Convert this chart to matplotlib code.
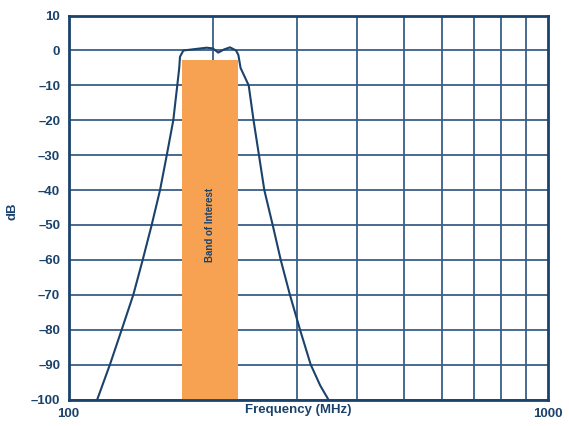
import matplotlib.pyplot as plt

# Filter response (MHz, dB)
freq = [114.8, 122.0, 129.1, 136.5, 142.8, 149.1, 155.2, 160.3, 165.4, 168.6,
        170.2, 170.8, 173.6, 182.1, 194.2, 200.0, 205.3, 211.0, 217.2, 223.6,
        226.1, 228.5, 237.6, 243.2, 249.6, 256.1, 266.6, 277.1, 289.6, 304.0,
        320.0, 335.0, 348.3]
gain = [-100, -90, -80, -70, -60, -50, -40, -30, -20, -10,
        -5, -1.8, 0.0, 0.35, 0.8, 0.6, -0.6, 0.3, 0.9, 0.0,
        -1.3, -5, -10, -20, -30, -40, -50, -60, -70, -80,
        -90, -96, -100]

band_lo, band_hi = 172.2, 225.3
band_top = -2.7

yticks = list(range(-100, 11, 10))
ylabels = [str(v).replace('-', '\u2013') for v in yticks]
xgrid = [200, 300, 400, 500, 600, 700, 800, 900]

navy = '#1b426b'
grid_c = '#3a5f88'
orange = '#f7a252'

plt.rcParams['font.family'] = ['Liberation Sans', 'DejaVu Sans']
plt.rcParams['font.weight'] = 'bold'

fig = plt.figure(figsize=(5.69, 4.26), dpi=100)
ax = fig.add_axes([0.1204, 0.0622, 0.8426, 0.9012])

ax.set_xscale('log')
ax.set_xlim(100, 1000)
ax.set_ylim(-100, 10)

for v in yticks:
    ax.axhline(v, color=grid_c, lw=1.3, zorder=1)
for v in xgrid:
    ax.axvline(v, color=grid_c, lw=1.3, zorder=1)

ax.bar(band_lo, band_top + 100, width=band_hi - band_lo, bottom=-100,
       align='edge', color=orange, zorder=2)
ax.text((band_lo * band_hi) ** 0.5, -50, 'Band of Interest', rotation=90,
        ha='center', va='center', fontsize=7, color=navy, fontweight='bold', zorder=3)

ax.plot(freq, gain, color=navy, lw=1.5, zorder=4, solid_joinstyle='round')

ax.set_yticks(yticks)
ax.set_yticklabels(ylabels)
ax.set_xticks([100, 1000])
ax.set_xticklabels(['100', '1000'])
ax.minorticks_off()
ax.tick_params(length=0, labelsize=9.5, colors=navy, pad=6)
for lab in ax.get_xticklabels() + ax.get_yticklabels():
    lab.set_fontweight('bold')

for s in ax.spines.values():
    s.set_color(navy)
    s.set_linewidth(2)
    s.set_zorder(5)

ax.set_xlabel('Frequency (MHz)', fontsize=9.5, color=navy, fontweight='bold')
ax.xaxis.set_label_coords(0.48, -0.012, transform=ax.transAxes)
ax.xaxis.label.set_va('top')
ax.set_ylabel('dB', fontsize=9.5, color=navy, fontweight='bold')
ax.yaxis.set_label_coords(-0.105, 0.49)

fig.savefig('out.png', dpi=100)
